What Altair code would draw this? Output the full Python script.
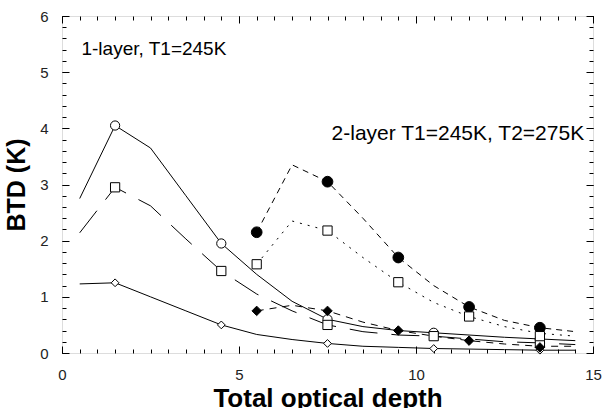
import altair as alt
import pandas as pd

# ---- data ----
x1_line = [0.5, 1.5, 2.5, 3.5, 4.5, 5.5, 6.5, 7.5, 8.5, 9.5, 10.5, 11.5, 12.5, 13.5, 14.5]
a_line = [2.75, 4.05, 3.65, 2.8, 1.95, 1.4, 0.92, 0.6, 0.47, 0.4, 0.36, 0.32, 0.28, 0.25, 0.22]
b_line = [2.14, 2.95, 2.62, 2.03, 1.46, 1.05, 0.75, 0.5, 0.38, 0.32, 0.3, 0.25, 0.2, 0.18, 0.15]
c_line = [1.23, 1.25, 1.0, 0.75, 0.5, 0.33, 0.24, 0.17, 0.12, 0.1, 0.08, 0.07, 0.06, 0.05, 0.05]
x1_mark = [1.5, 4.5, 7.5, 10.5, 13.5]
a_mark = [4.05, 1.95, 0.6, 0.36, 0.25]
b_mark = [2.95, 1.46, 0.5, 0.3, 0.18]
c_mark = [1.25, 0.5, 0.17, 0.08, 0.05]

x2_line = [5.5, 6.5, 7.5, 8.5, 9.5, 10.5, 11.5, 12.5, 13.5, 14.5]
d_line = [2.15, 3.35, 3.05, 2.4, 1.7, 1.2, 0.82, 0.58, 0.45, 0.38]
e_line = [1.58, 2.35, 2.18, 1.7, 1.26, 0.9, 0.65, 0.47, 0.35, 0.3]
f_line = [0.75, 0.85, 0.75, 0.55, 0.4, 0.3, 0.22, 0.16, 0.12, 0.12]
x2_mark = [5.5, 7.5, 9.5, 11.5, 13.5]
d_mark = [2.15, 3.05, 1.7, 0.82, 0.45]
e_mark = [1.58, 2.18, 1.26, 0.65, 0.3]
f_mark = [0.75, 0.75, 0.4, 0.22, 0.1]

x_major = [0, 5, 10, 15]
x_minor = [i * 0.5 for i in range(31)]
y_major = [0, 1, 2, 3, 4, 5, 6]
y_minor = [round(i * 0.2, 1) for i in range(31)]

label1 = "1-layer, T1=245K"
label2 = "2-layer T1=245K, T2=275K"

FONT = "Liberation Sans"
W, H = 531, 337
XMIN, XMAX, YMIN, YMAX = 0, 15, 0, 6

xs = alt.Scale(domain=[XMIN, XMAX], nice=False, zero=False)
ys = alt.Scale(domain=[YMIN, YMAX], nice=False, zero=False)


def df(x, y):
    return pd.DataFrame({"x": x, "y": y})


def X(axis=None):
    return alt.X("x:Q", scale=xs, axis=axis)


def Y(axis=None):
    return alt.Y("y:Q", scale=ys, axis=axis)


layers = []

# lines
line_specs = [
    (x1_line, a_line, None),
    (x1_line, b_line, [28, 14]),
    (x1_line, c_line, None),
    (x2_line, d_line, [6, 5]),
    (x2_line, e_line, [2, 6]),
    (x2_line, f_line, [7, 6]),
]
for xv, yv, dash in line_specs:
    kw = dict(color="black", strokeWidth=1)
    if dash:
        kw["strokeDash"] = dash
    layers.append(alt.Chart(df(xv, yv)).mark_line(**kw).encode(x=X(), y=Y()))

# markers
mark_specs = [
    (x1_mark, a_mark, "circle", 85, False),
    (x1_mark, b_mark, "square", 85, False),
    (x1_mark, c_mark, "diamond", 60, False),
    (x2_mark, d_mark, "circle", 115, True),
    (x2_mark, e_mark, "square", 85, False),
    (x2_mark, f_mark, "diamond", 90, True),
]
for xv, yv, shape, size, filled in mark_specs:
    layers.append(
        alt.Chart(df(xv, yv))
        .mark_point(
            shape=shape, size=size, filled=True,
            fill="black" if filled else "white",
            stroke="black", strokeWidth=1, opacity=1,
        )
        .encode(x=X(), y=Y())
    )

# annotations (no axes of their own)
layers.append(
    alt.Chart(df([0], [0])).mark_text(
        text=label1, align="left", baseline="middle", font=FONT, fontSize=19, color="black"
    ).encode(x=alt.XDatum(0.55, scale=xs, axis=None), y=alt.YDatum(5.42, scale=ys, axis=None))
)
layers.append(
    alt.Chart(df([0], [0])).mark_text(
        text=label2, align="right", baseline="middle", font=FONT, fontSize=21, color="black"
    ).encode(x=alt.XDatum(14.75, scale=xs, axis=None), y=alt.YDatum(3.9, scale=ys, axis=None))
)

# axes: inside ticks on all four sides via negative offset
base = df([XMIN, XMAX], [YMIN, YMAX])
common = dict(domain=False, grid=False, tickColor="black", tickWidth=1)


def ax_layer(xaxis=None, yaxis=None):
    return alt.Chart(base).mark_point(opacity=0).encode(x=X(xaxis), y=Y(yaxis))


layers.append(ax_layer(xaxis=alt.Axis(
    orient="bottom", values=x_major, tickSize=7, offset=-7, labels=True,
    labelFont=FONT, labelFontSize=15, labelColor="#222", labelPadding=14,
    format="d", labelFlush=False,
    title="Total optical depth", titleFont=FONT, titleFontSize=26,
    titleFontWeight="bold", titleColor="black", titlePadding=3, **common)))
layers.append(ax_layer(xaxis=alt.Axis(
    orient="bottom", values=x_minor, tickSize=4, offset=-4, labels=False, title=None, **common)))
layers.append(ax_layer(xaxis=alt.Axis(
    orient="top", values=x_major, tickSize=7, offset=-7, labels=False, title=None, **common)))
layers.append(ax_layer(xaxis=alt.Axis(
    orient="top", values=x_minor, tickSize=4, offset=-4, labels=False, title=None, **common)))

layers.append(ax_layer(yaxis=alt.Axis(
    orient="left", values=y_major, tickSize=7, offset=-7, labels=True,
    labelFont=FONT, labelFontSize=15, labelColor="#222", labelPadding=14,
    format="d", labelFlush=False,
    title="BTD (K)", titleFont=FONT, titleFontSize=25,
    titleFontWeight="bold", titleColor="black", titlePadding=10, **common)))
layers.append(ax_layer(yaxis=alt.Axis(
    orient="left", values=y_minor, tickSize=4, offset=-4, labels=False, title=None, **common)))
layers.append(ax_layer(yaxis=alt.Axis(
    orient="right", values=y_major, tickSize=7, offset=-7, labels=False, title=None, **common)))
layers.append(ax_layer(yaxis=alt.Axis(
    orient="right", values=y_minor, tickSize=4, offset=-4, labels=False, title=None, **common)))

chart = (
    alt.layer(*layers)
    .resolve_axis(x="independent", y="independent")
    .properties(
        width=W,
        height=H,
        autosize=alt.AutoSizeParams(type="none"),
        padding={"left": 62, "top": 16, "right": 11, "bottom": 55},
    )
    .configure_view(stroke="black", strokeWidth=1)
    .configure(background="white")
)

chart.save("out.html", embed_options={"renderer": "svg", "actions": False})
